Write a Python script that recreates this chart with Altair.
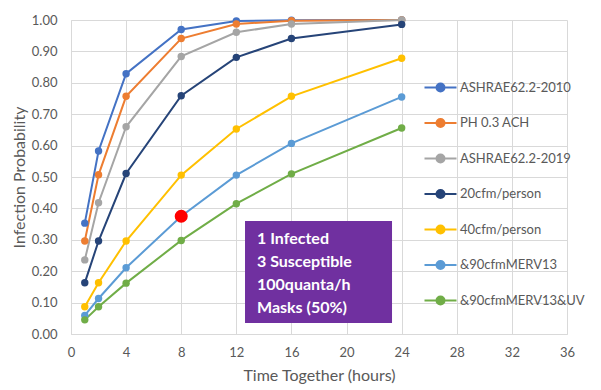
import altair as alt
import pandas as pd

FONT = "Lato"
TEXT_GRAY = "#595959"
GRID = "#D9D9D9"

hours = [1, 2, 4, 8, 12, 16, 24]
series_names = ["ASHRAE62.2-2010", "PH 0.3 ACH", "ASHRAE62.2-2019", "20cfm/person",
                "40cfm/person", "&90cfmMERV13", "&90cfmMERV13&UV"]
ashrae2010 = [0.353, 0.583, 0.829, 0.970, 0.997, 0.999, 1.000]
ph03 = [0.296, 0.507, 0.757, 0.941, 0.987, 0.998, 1.000]
ashrae2019 = [0.236, 0.418, 0.660, 0.884, 0.961, 0.987, 1.000]
cfm20 = [0.163, 0.296, 0.511, 0.759, 0.881, 0.941, 0.986]
cfm40 = [0.087, 0.163, 0.296, 0.506, 0.653, 0.757, 0.878]
merv13 = [0.059, 0.113, 0.211, 0.375, 0.506, 0.607, 0.755]
merv13uv = [0.045, 0.087, 0.162, 0.298, 0.415, 0.510, 0.656]
colors = ["#4472C4", "#ED7D31", "#A5A5A5", "#264478", "#FFC000", "#5B9BD5", "#70AD47"]

highlight_hour = [8]
highlight_value = [0.375]

note_lines = ["1 Infected", "3 Susceptible", "100quanta/h", "Masks (50%)"]

x_ticks = [0, 4, 8, 12, 16, 20, 24, 28, 32, 36]
y_ticks = [0.0, 0.1, 0.2, 0.3, 0.4, 0.5, 0.6, 0.7, 0.8, 0.9, 1.0]

rows = []
for name, vals in zip(series_names, [ashrae2010, ph03, ashrae2019, cfm20, cfm40, merv13, merv13uv]):
    for h, v in zip(hours, vals):
        rows.append({"series": name, "hours": h, "p": v})
df = pd.DataFrame(rows)
hl = pd.DataFrame({"hours": highlight_hour, "p": highlight_value})
note = pd.DataFrame({"text": ["\n".join(note_lines)]})

scale = alt.Scale(domain=series_names, range=colors)
xscale = alt.Scale(domain=[0, 36], nice=False)
yscale = alt.Scale(domain=[0, 1], nice=False)
xaxis = alt.Axis(values=x_ticks, title="Time Together (hours)")
yaxis = alt.Axis(values=y_ticks, format=".2f", title="Infection Probability")
x = alt.X("hours:Q", scale=xscale, axis=xaxis)
y = alt.Y("p:Q", scale=yscale, axis=yaxis)

legend = alt.Legend(
    title=None, orient="none", legendX=363, legendY=61,
    symbolType="M-4,0L4,0M-1,0A1,1,0,1,1,1,0A1,1,0,1,1,-1,0Z",
    symbolSize=64, symbolStrokeWidth=2, labelOffset=13, rowPadding=18.5,
    labelFontSize=13, labelColor=TEXT_GRAY, labelFont=FONT,
)

lines = alt.Chart(df).mark_line(strokeWidth=2).encode(
    x=x, y=y,
    stroke=alt.Stroke("series:N", scale=scale, legend=legend),
)
points = alt.Chart(df).mark_point(filled=True, size=55, opacity=1).encode(
    x=x, y=y,
    fill=alt.Fill("series:N", scale=scale, legend=legend),
)
red = alt.Chart(hl).mark_point(filled=True, size=170, opacity=1, color="#FF0000").encode(
    x=x, y=y,
)
box = alt.Chart(note).mark_rect(color="#7030A0").encode(
    x=alt.X(datum=12.63, scale=xscale, axis=xaxis), x2=alt.X2(datum=23.3),
    y=alt.Y(datum=0.36, scale=yscale, axis=yaxis), y2=alt.Y2(datum=0.035),
)
txt = alt.Chart(note).mark_text(
    align="left", baseline="middle", lineBreak="\n", lineHeight=23,
    fontSize=16, fontWeight="bold", color="white", font=FONT,
).encode(
    x=alt.X(datum=13.5, scale=xscale, axis=xaxis),
    y=alt.Y(datum=0.301, scale=yscale, axis=yaxis),
    text="text:N",
)

chart = alt.layer(lines, points, red, box, txt).properties(
    width=496, height=314,
    autosize=alt.AutoSizeParams(type="none"),
    padding={"left": 63, "top": 12, "right": 26, "bottom": 56},
).configure_view(stroke=None).configure_axis(
    gridColor=GRID, domainColor=GRID, ticks=False, labelFlush=False,
    labelColor=TEXT_GRAY, labelFont=FONT, labelFontSize=13,
    titleColor=TEXT_GRAY, titleFont=FONT, titleFontSize=16, titleFontWeight="normal",
).configure_axisY(titlePadding=4, labelPadding=14).configure_axisX(titlePadding=8, labelPadding=12)

chart.save("out.html", embed_options={"renderer": "svg", "actions": False})
